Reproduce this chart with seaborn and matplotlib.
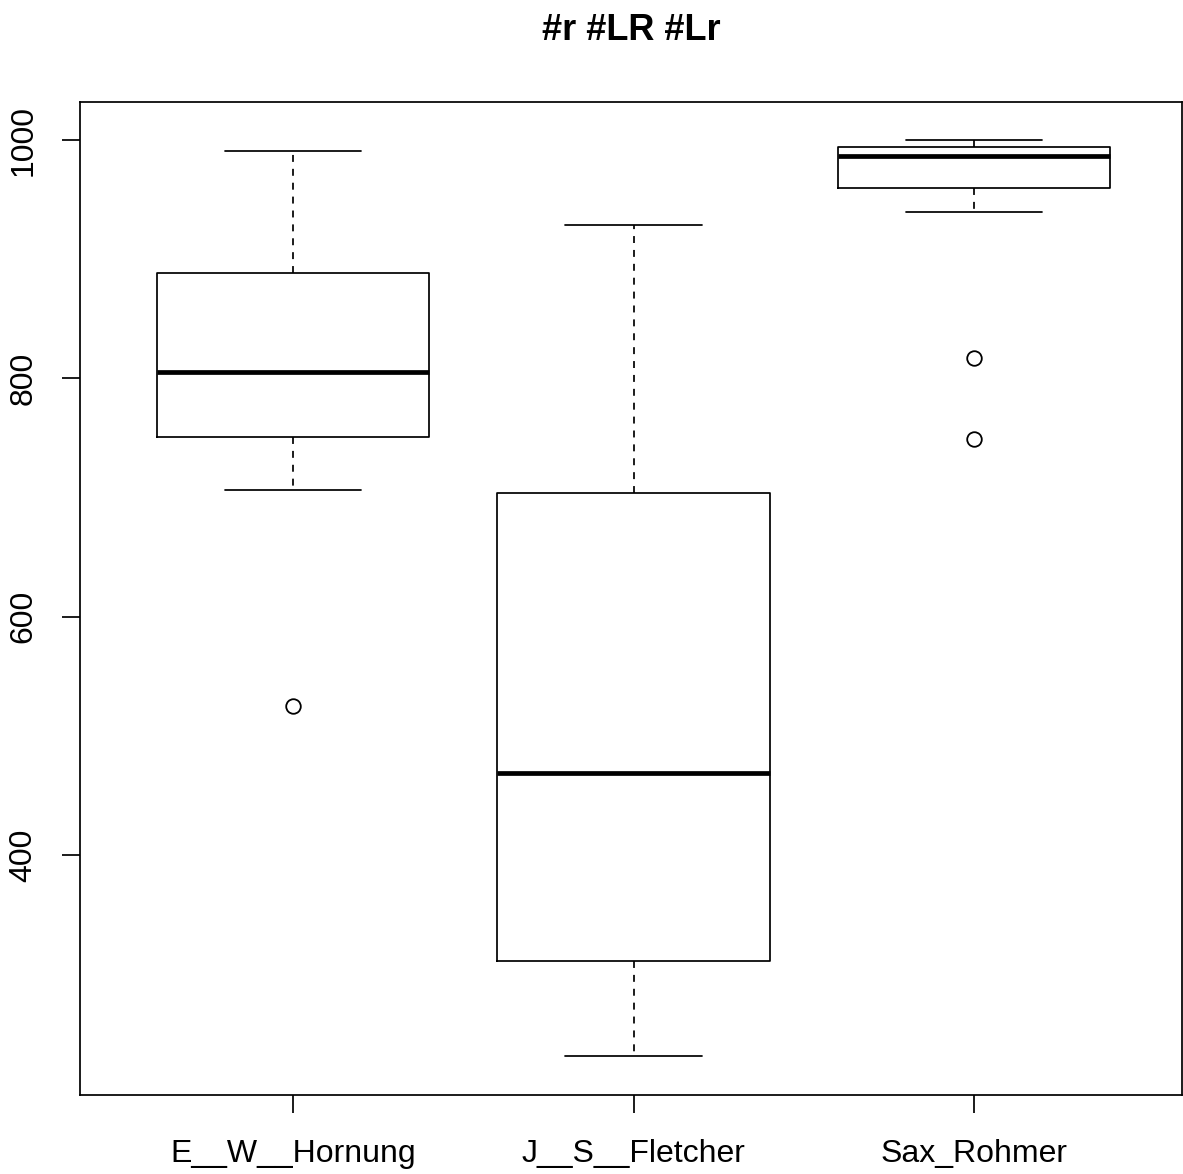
import matplotlib
matplotlib.use("Agg")
import matplotlib.pyplot as plt
import seaborn as sns
import pandas as pd

# Observations per author (whisker ends, hinges, medians and outliers)
authors = ["E__W__Hornung", "J__S__Fletcher", "Sax_Rohmer"]
hornung = [525, 706, 751, 751, 805, 805, 888, 888, 991]
fletcher = [231, 311, 469, 704, 929]
rohmer = [749, 817, 940, 960, 960, 987, 987, 987, 994, 994, 994, 1000, 1000]
y_ticks = [400, 600, 800, 1000]
title = "#r #LR #Lr"

df = pd.DataFrame({
    "author": [authors[0]] * len(hornung) + [authors[1]] * len(fletcher) + [authors[2]] * len(rohmer),
    "value": hornung + fletcher + rohmer,
})

sns.set_theme(style="white")
plt.rcParams["font.family"] = ["Liberation Sans", "DejaVu Sans"]
plt.rcParams["text.color"] = "black"

W, H = 1183, 1174
fig = plt.figure(figsize=(W / 100, H / 100), dpi=100)
ax = fig.add_axes([80 / W, 1 - 1095 / H, 1102 / W, (1095 - 102) / H])

lw = 1.25
sns.boxplot(
    data=df, x="author", y="value", order=authors, ax=ax,
    fill=False, color="black", width=0.8, linewidth=lw,
    whis=1.5,
    boxprops=dict(color="black", linewidth=lw),
    whiskerprops=dict(color="black", linewidth=lw, linestyle=(0, (4, 4))),
    capprops=dict(color="black", linewidth=lw),
    medianprops=dict(color="black", linewidth=3.4, solid_capstyle="butt"),
    flierprops=dict(marker="o", markerfacecolor="white", markeredgecolor="black",
                    markersize=10.5, markeredgewidth=1.3),
)

ax.set_xlim(-0.625, 2.61)
ax.set_ylim(198.6, 1031.9)
ax.set_yticks(y_ticks)
ax.set_yticklabels([str(v) for v in y_ticks], rotation=90, va="center")
ax.set_xlabel("")
ax.set_ylabel("")

for s in ax.spines.values():
    s.set_visible(True)
    s.set_color("black")
    s.set_linewidth(lw)

ax.tick_params(axis="both", which="both", direction="out", length=13, width=lw,
               color="black", labelsize=23, labelcolor="black")
ax.tick_params(axis="y", pad=17, left=True)
ax.tick_params(axis="x", pad=18.5, bottom=True)

fig.text((80 + 1182) / 2 / W, 1 - 30 / H, title, ha="center", va="center",
         fontsize=26, fontweight="bold", color="black")

fig.savefig("out.png", dpi=100)
